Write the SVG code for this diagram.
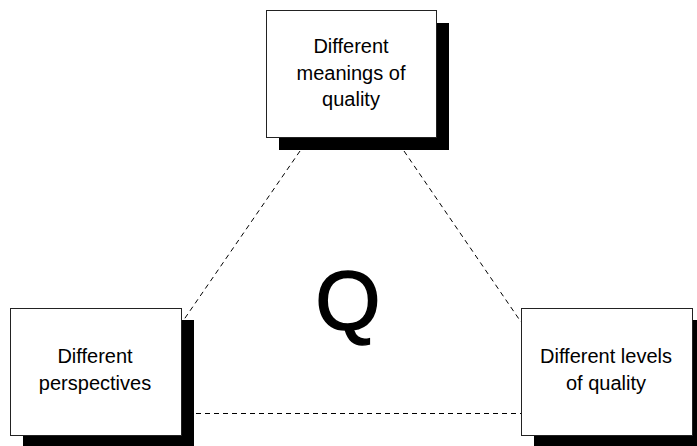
<svg xmlns="http://www.w3.org/2000/svg" width="697" height="446" viewBox="0 0 697 446">
<style>
.shadow{fill:#000}
.box{fill:#fff;stroke:#222;stroke-width:1}
.lbl{font-family:"Liberation Sans",Arial,sans-serif;font-size:20px;fill:#000;text-anchor:middle}
.conn{stroke:#000;stroke-width:1;stroke-dasharray:5,4;fill:none}
</style>
<rect width="697" height="446" fill="#fff"/>
<g id="connectors">
<line class="conn" x1="300" y1="151" x2="183" y2="321"/>
<line class="conn" x1="404" y1="151" x2="521" y2="322"/>
<line class="conn" x1="196" y1="413.5" x2="521" y2="413.5"/>
</g>
<g id="node-top">
<rect class="shadow" x="279" y="23" width="170" height="127"/>
<rect class="box" x="266.5" y="10.5" width="170" height="127"/>
<text class="lbl" x="351" y="53">Different</text>
<text class="lbl" x="351" y="80">meanings of</text>
<text class="lbl" x="351" y="106">quality</text>
</g>
<g id="node-left">
<rect class="shadow" x="23" y="320" width="171" height="127"/>
<rect class="box" x="10.5" y="308.5" width="171" height="127"/>
<text class="lbl" x="95" y="363">Different</text>
<text class="lbl" x="95" y="390">perspectives</text>
</g>
<g id="node-right">
<rect class="shadow" x="534" y="320" width="171" height="127"/>
<rect class="box" x="521.5" y="308.5" width="171" height="127"/>
<text class="lbl" x="606" y="363">Different levels</text>
<text class="lbl" x="606" y="390">of quality</text>
</g>
<g id="center-label">
<text x="348" y="329" font-family="'Liberation Sans',Arial,sans-serif" font-size="84" text-anchor="middle" fill="#000" stroke="#000" stroke-width="1.5">Q</text>
</g>
</svg>
